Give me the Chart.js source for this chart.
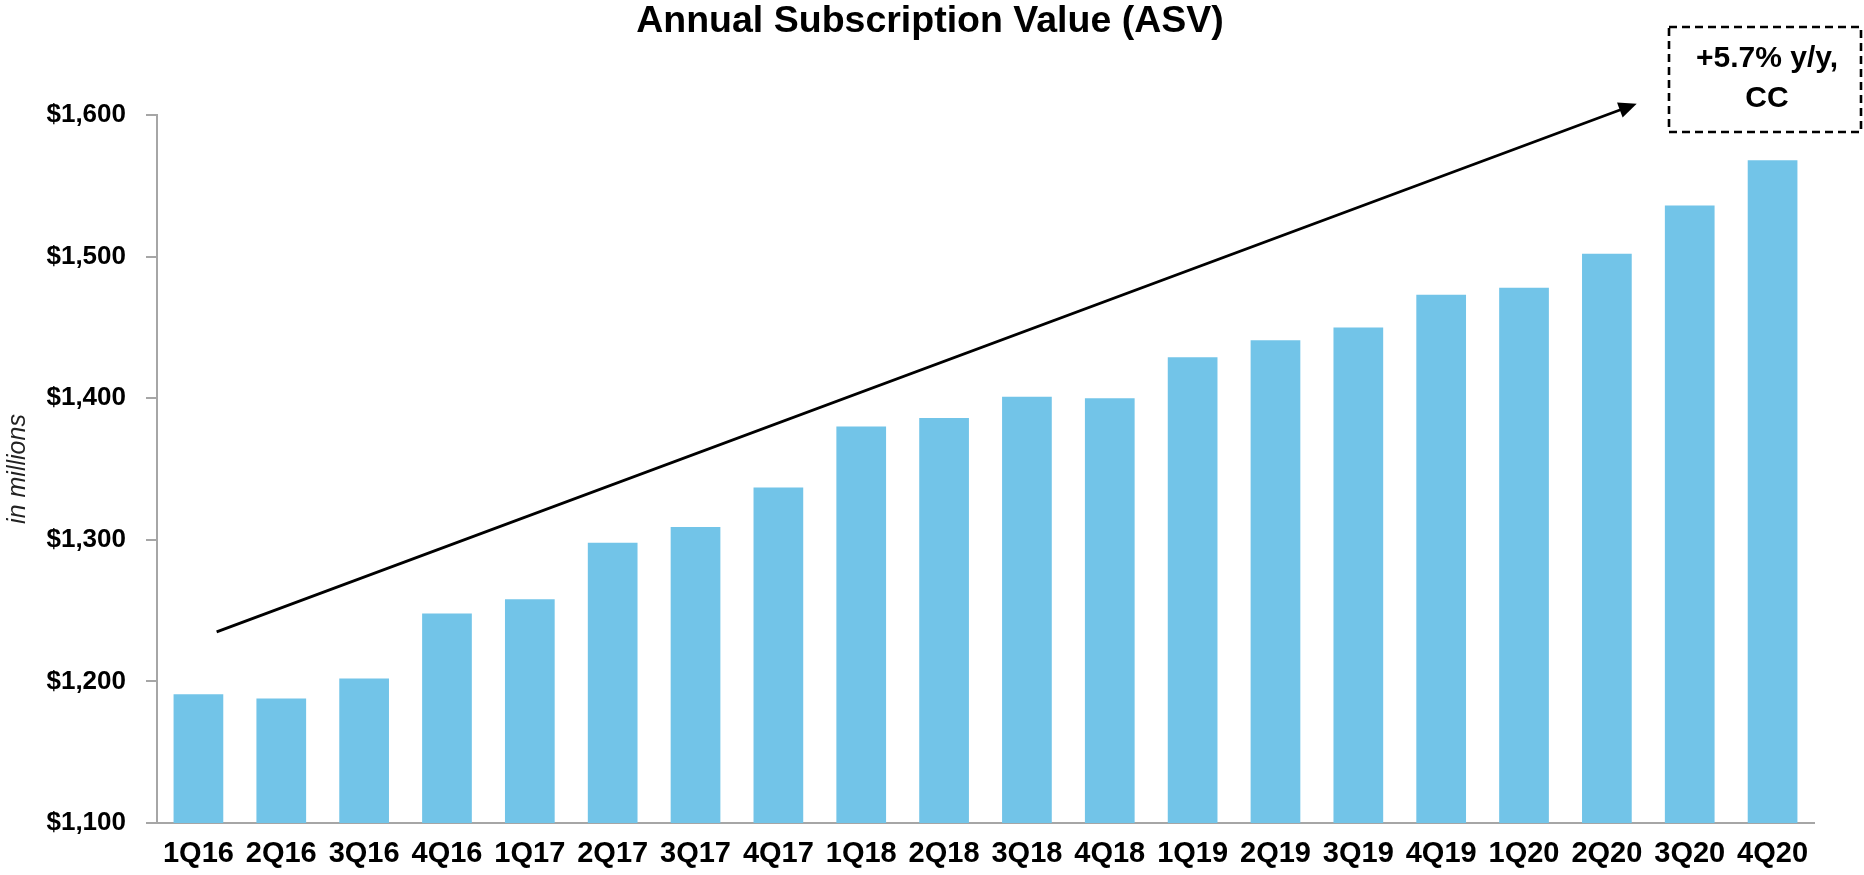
<!DOCTYPE html>
<html>
<head>
<meta charset="utf-8">
<script src="https://cdn.jsdelivr.net/npm/chart.js@4/dist/chart.umd.min.js"></script>
<style>
  html, body { margin: 0; padding: 0; background: #fff; }
  .wrap { width: 1864px; height: 875px; }
</style>
</head>
<body>
<div class="wrap"><canvas class="asv-canvas" width="1864" height="875"></canvas></div>
<script>
const asvCanvas = document.querySelector(".asv-canvas")

const quarters = ["1Q16", "2Q16", "3Q16", "4Q16", "1Q17", "2Q17", "3Q17", "4Q17", "1Q18", "2Q18",
                  "3Q18", "4Q18", "1Q19", "2Q19", "3Q19", "4Q19", "1Q20", "2Q20", "3Q20", "4Q20"];
const asv = [1191, 1188, 1202, 1248, 1258, 1298, 1309, 1337, 1380, 1386,
             1401, 1400, 1429, 1441, 1450, 1473, 1478, 1502, 1536, 1568];
const yRange = [1100, 1600];
const yStep = 100;
// trend arrow, in category index / value units
const arrowFrom = [0.22, 1235];
const arrowTo = [17.36, 1608];
const chartTitle = "Annual Subscription Value (ASV)";
const calloutLines = ["+5.7% y/y,", "CC"];

const font = "'Liberation Sans', Arial, Helvetica, sans-serif";

// title (page-centred, not chart-area-centred), trend arrow, dashed callout box
const annotations = {
    id: "annotations",
    afterDatasetsDraw(chart) {
        const ctx = chart.ctx;
        const x = chart.scales.x, y = chart.scales.y;
        const x1 = x.getPixelForValue(arrowFrom[0]), y1 = y.getPixelForValue(arrowFrom[1]);
        const x2 = x.getPixelForValue(arrowTo[0]), y2 = y.getPixelForValue(arrowTo[1]);
        const ang = Math.atan2(y2 - y1, x2 - x1);
        const headLen = 18, headW = 8;

        ctx.save();
        ctx.fillStyle = "#000";
        ctx.font = "bold 37.5px " + font;
        ctx.textAlign = "center";
        ctx.textBaseline = "middle";
        ctx.fillText(chartTitle, 930, 22);

        ctx.strokeStyle = "#000";
        ctx.lineWidth = 2.8;
        ctx.beginPath();
        ctx.moveTo(x1, y1);
        ctx.lineTo(x2 - Math.cos(ang) * headLen * 0.8, y2 - Math.sin(ang) * headLen * 0.8);
        ctx.stroke();

        ctx.beginPath();
        ctx.moveTo(x2, y2);
        ctx.lineTo(x2 - Math.cos(ang) * headLen - Math.sin(ang) * headW,
                   y2 - Math.sin(ang) * headLen + Math.cos(ang) * headW);
        ctx.lineTo(x2 - Math.cos(ang) * headLen + Math.sin(ang) * headW,
                   y2 - Math.sin(ang) * headLen - Math.cos(ang) * headW);
        ctx.closePath();
        ctx.fill();

        // callout box
        const bx = 1669, by = 27, bw = 192, bh = 105;
        ctx.setLineDash([8, 5]);
        ctx.lineWidth = 2.6;
        ctx.strokeRect(bx, by, bw, bh);
        ctx.setLineDash([]);

        ctx.font = "bold 30px " + font;
        ctx.fillText(calloutLines[0], bx + bw / 2 + 2, 59);
        ctx.fillText(calloutLines[1], bx + bw / 2 + 2, 99);
        ctx.restore();
    }
};

new Chart(asvCanvas, {
    type: "bar",
    data: {
        labels: quarters,
        datasets: [
            {
                label: "ASV",
                data: asv,
                backgroundColor: "#72c4e8",
                borderWidth: 0,
                barPercentage: 0.6,
                categoryPercentage: 1.0
            }
        ]
    },
    options: {
        responsive: false,
        animation: false,
        layout: {
            padding: { left: 0, right: 50, top: 115, bottom: 0 }
        },
        plugins: {
            legend: { display: false },
            tooltip: { enabled: false },
            title: { display: false }
        },
        scales: {
            x: {
                grid: { display: false, drawTicks: false },
                border: { display: true, color: "#a6a6a6", width: 2 },
                ticks: {
                    color: "#000",
                    font: { family: font, size: 29, weight: "bold" },
                    padding: 14,
                    maxRotation: 0,
                    autoSkip: false
                },
                afterFit(scale) { scale.height = 52; }
            },
            y: {
                min: yRange[0],
                max: yRange[1],
                grid: { display: true, drawOnChartArea: false, drawTicks: true, tickLength: 11, color: "#a6a6a6", lineWidth: 2 },
                border: { display: true, color: "#a6a6a6", width: 2 },
                ticks: {
                    stepSize: yStep,
                    color: "#000",
                    padding: 20,
                    font: { family: font, size: 26, weight: "bold" },
                    callback: (v) => "$" + v.toLocaleString("en-US")
                },
                title: {
                    display: true,
                    text: "in millions",
                    color: "#222",
                    font: { family: font, size: 25, style: "italic" },
                    padding: { top: 3, bottom: 0 }
                },
                afterFit(scale) { scale.width = 157; }
            }
        }
    },
    plugins: [annotations]
});
</script>
</body>
</html>
